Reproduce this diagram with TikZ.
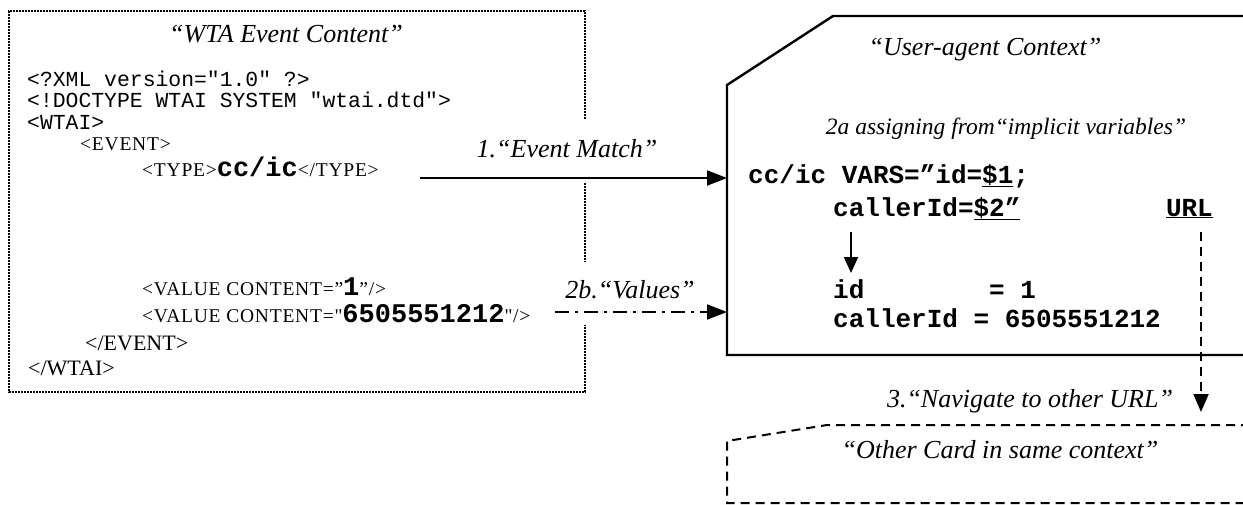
\documentclass[tikz,border=0pt]{standalone}
\usepackage{fontspec}
\setmainfont{Liberation Serif}
\setmonofont{Liberation Mono}
\newfontfamily\tagface[LetterSpace=4]{Liberation Serif}
\usetikzlibrary{arrows.meta}

\tikzset{
  code/.style={font=\fontsize{21.4}{21}\selectfont\ttfamily, anchor=base west, inner sep=0pt},
  smallcode/.style={font=\fontsize{19.5}{20}\selectfont\tagface, anchor=base west, inner sep=0pt},
  rcode/.style={font=\fontsize{26}{26}\selectfont\ttfamily\bfseries, anchor=base west, inner sep=0pt},
  tag/.style={font=\fontsize{22}{22}\selectfont, anchor=base west, inner sep=0pt},
  caption/.style={font=\fontsize{26}{26}\selectfont\itshape, anchor=base, inner sep=0pt},
  dotbox/.style={line width=1.6pt, dash pattern=on 1.6pt off 1.4pt},
  solidbox/.style={line width=2.4pt},
  dashbox/.style={line width=2pt, dash pattern=on 9pt off 6pt},
  tip/.style={-{Triangle[length=20pt,width=15pt]}},
  flow/.style={line width=2pt, tip},
}
\newcommand{\bigbold}[1]{{\fontsize{27}{27}\selectfont\ttfamily\bfseries #1}}

\begin{document}
\begin{tikzpicture}[x=1pt,y=-1pt]
\useasboundingbox (0,0) rectangle (1243,504);

% event content box, open where the arrows leave it
\draw[dotbox] (585,119) -- (585,11) -- (9,11) -- (9,392) -- (585,392) -- (585,325);
\draw[dotbox] (585,183) -- (585,262);

\node[caption] (wtatitle) at (286,42) {“WTA Event Content”};
\node[code] (l1) at (27,86)  {<?XML version="1.0" ?>};
\node[code] (l2) at (27,107) {<!DOCTYPE WTAI SYSTEM "wtai.dtd">};
\node[code] (l3) at (27,129) {<WTAI>};
\node[smallcode] (l4) at (80,150) {<EVENT>};
\node[smallcode] (l5) at (142,176) {<TYPE>\bigbold{cc/ic}</TYPE>};
\node[smallcode] (v1) at (142,295) {<VALUE CONTENT=”\bigbold{1}”/>};
\node[smallcode] (v2) at (142,322) {<VALUE CONTENT="\bigbold{6505551212}"/>};
\node[tag] (l6) at (85,350) {</EVENT>};
\node[tag] (l7) at (28,375) {</WTAI>};

% user-agent context, running off to the right
\draw[solidbox] (1250,355) -- (727,355) -- (727,85) -- (833,16) -- (1250,16);
\coordinate (ctxin1) at (727,178);
\coordinate (ctxin2) at (727,312);

\node[caption] (ctxtitle) at (985,55) {“User-agent Context”};
\node[caption, font=\fontsize{23.5}{24}\selectfont\itshape] (assign) at (1006,134) {2a assigning from“implicit variables”};

\node[rcode] (vars1) at (748,183) {cc/ic VARS=”id=\underline{\$1};};
\node[rcode] (vars2) at (833,216) {callerId=\underline{\$2”}};
\node[rcode, anchor=base east] (url) at (1213,216) {\underline{URL}};
\node[rcode] (res1) at (833,298) {id~~~~~~~~= 1};
\node[rcode] (res2) at (833,327) {callerId = 6505551212};

\coordinate (vdown) at (851,232);
\coordinate (vres) at (851,273);
\draw[line width=2pt, -{Triangle[length=16pt,width=14pt]}] (vdown) -- (vres);

% other card
\draw[dashbox] (1250,425) -- (827,425) -- (727,441) -- (727,503) -- (1250,503);
\node[caption] (other) at (1000,458) {“Other Card in same context”};

% connectors
\coordinate (m1) at (420,178);
\draw[flow] (m1) -- (ctxin1);
\node[caption] (lab1) at (567,157) {1.“Event Match”};

\coordinate (m2) at (555,312);
\draw[flow, dash pattern=on 14pt off 6pt on 3pt off 6pt] (m2) -- (ctxin2);
\node[caption] (lab2) at (630,298) {2b.“Values”};

\coordinate (urlfoot) at (1201,232);
\coordinate (navend) at (1201,412);
\draw[line width=2pt, dash pattern=on 9pt off 6pt, -{Triangle[length=18pt,width=15pt]}] (urlfoot) -- (navend);
\node[caption] (lab3) at (1030,407) {3.“Navigate to other URL”};
\end{tikzpicture}
\end{document}
